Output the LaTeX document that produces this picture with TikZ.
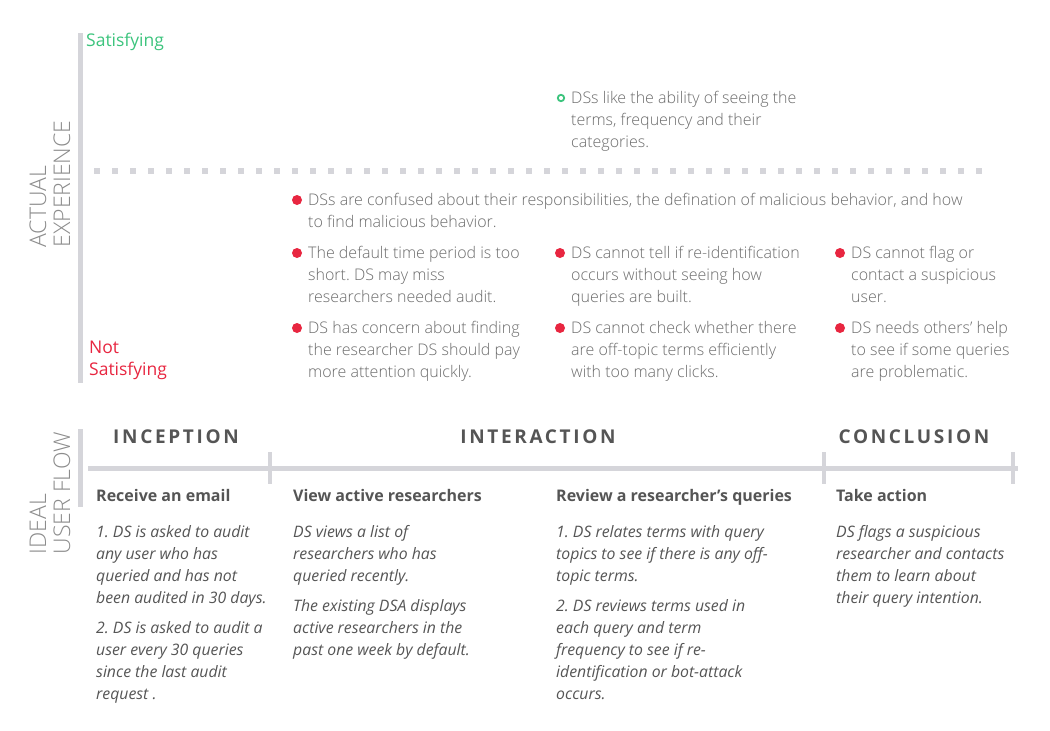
\documentclass[tikz,border=0pt]{standalone}
\usepackage{fontspec}
\setmainfont{Open Sans}
\IfFontExistsTF{Open Sans Light}{\newfontfamily\lightfont{Open Sans Light}}{\newfontfamily\lightfont{Open Sans}}
\IfFontExistsTF{Open Sans SemiBold}{\newfontfamily\semifont{Open Sans SemiBold}}{\newcommand\semifont{\bfseries}}
\newfontfamily\phasefont{Open Sans}[LetterSpace=14]
\frenchspacing
\usepackage{xcolor}
\definecolor{dsgreen}{RGB}{60,196,125}
\definecolor{dsred}{RGB}{232,38,64}
\definecolor{dsbar}{RGB}{213,213,218}
\definecolor{dstext}{RGB}{108,108,108}
\definecolor{dsdark}{RGB}{85,85,85}
\definecolor{dsaxis}{RGB}{140,140,140}
\usepackage{tikz}
\usetikzlibrary{positioning}

\begin{document}
\begin{tikzpicture}[x=1pt, y=-1pt,
  note/.style={anchor=north west, inner sep=0pt, align=left, text=dstext, font=\lightfont\fontsize{16}{22}\selectfont},
  flowtext/.style={anchor=north west, inner sep=0pt, align=left, text=dsdark, font=\fontsize{15.8}{22}\selectfont\itshape},
  flowhead/.style={anchor=north west, inner sep=0pt, text=dsdark, font=\semifont\fontsize{16}{22}\selectfont},
  phase/.style={inner sep=0pt, text=dsdark, font=\phasefont\bfseries\fontsize{19}{22}\selectfont},
  axislabel/.style={rotate=90, align=left, inner sep=0pt, text=dsaxis, font=\lightfont\fontsize{23}{24}\selectfont},
  scale label/.style={inner sep=0pt, align=left, font=\fontsize{17.5}{22}\selectfont},
  bar/.style={draw=dsbar, line width=5pt},
]
  \fill[white] (0,0) rectangle (1050,731);
  \useasboundingbox (0,0) rectangle (1050,731);

  % Actual experience
  \draw[bar] (80.5,33) -- (80.5,383);
  \node[axislabel] (actual) at (50,184) {ACTUAL\\EXPERIENCE};
  \node[scale label, anchor=west, text=dsgreen] (sat) at (86,42) {Satisfying};
  \node[scale label, anchor=north west, text=dsred] (notsat) at (89,341) {Not\\Satisfying};
  \draw[dsbar, line width=6pt, dash pattern=on 6pt off 12pt] (94,171) -- (985,171);

  % Satisfying points
  \node[note] (good1) at (571,91) {DSs like the ability of seeing the\\terms, frequency and their\\categories.};
  \draw[dsgreen, line width=1.8pt] ([xshift=-10pt,yshift=-7pt]good1.north west) circle (3.2pt);

  % Pain points
  \node[note] (bad1) at (308,193) {DSs are confused about their responsibilities, the defination of malicious behavior, and how\\to find malicious behavior.};
  \node[note] (bad2) at (308,246) {The default time period is too\\short. DS may miss\\researchers needed audit.};
  \node[note] (bad3) at (571,246) {DS cannot tell if re-identification\\occurs without seeing how\\queries are built.};
  \node[note] (bad4) at (851,246) {DS cannot flag or\\contact a suspicious\\user.};
  \node[note] (bad5) at (308,321) {DS has concern about finding\\the researcher DS should pay\\more attention quickly.};
  \node[note] (bad6) at (571,321) {DS cannot check whether there\\are off-topic terms efficiently\\with too many clicks.};
  \node[note] (bad7) at (851,321) {DS needs others’ help\\to see if some queries\\are problematic.};
  \foreach \n in {bad1,bad2,bad3,bad4,bad5,bad6,bad7}
    \fill[dsred] ([xshift=-11pt,yshift=-7pt]\n.north west) circle (5pt);

  % Ideal user flow
  \draw[bar] (80.5,429) -- (80.5,507);
  \node[axislabel] (ideal) at (50,493) {IDEAL\\USER FLOW};
  \node[phase] (inception) at (176,437) {INCEPTION};
  \node[phase] (interaction) at (538,437) {INTERACTION};
  \node[phase] (conclusion) at (914,437) {CONCLUSION};
  \draw[bar] (88,468) -- (1018,468);
  \foreach \x in {270,824,1013}
    \draw[bar, line width=4pt] (\x,452) -- (\x,484);

  % Steps
  \node[flowhead] (email) at (96,489) {Receive an email};
  \node[flowhead] (view) at (293,489) {View active researchers};
  \node[flowhead] (review) at (556,489) {Review a researcher’s queries};
  \node[flowhead] (action) at (836,489) {Take action};

  \node[flowtext] (emailtext) at (96,525) {1. DS is asked to audit\\any user who has\\queried and has not\\been audited in 30 days.\\[8pt]2. DS is asked to audit a\\user every 30 queries\\since the last audit\\request .};
  \node[flowtext] (viewtext) at (293,525) {DS views a list of\\researchers who has\\queried recently.\\[8pt]The existing DSA displays\\active researchers in the\\past one week by default.};
  \node[flowtext] (reviewtext) at (556,525) {1. DS relates terms with query\\topics to see if there is any off-\\topic terms.\\[8pt]2. DS reviews terms used in\\each query and term\\frequency to see if re-\\identification or bot-attack\\occurs.};
  \node[flowtext] (actiontext) at (836,525) {DS flags a suspicious\\researcher and contacts\\them to learn about\\their query intention.};
\end{tikzpicture}
\end{document}
